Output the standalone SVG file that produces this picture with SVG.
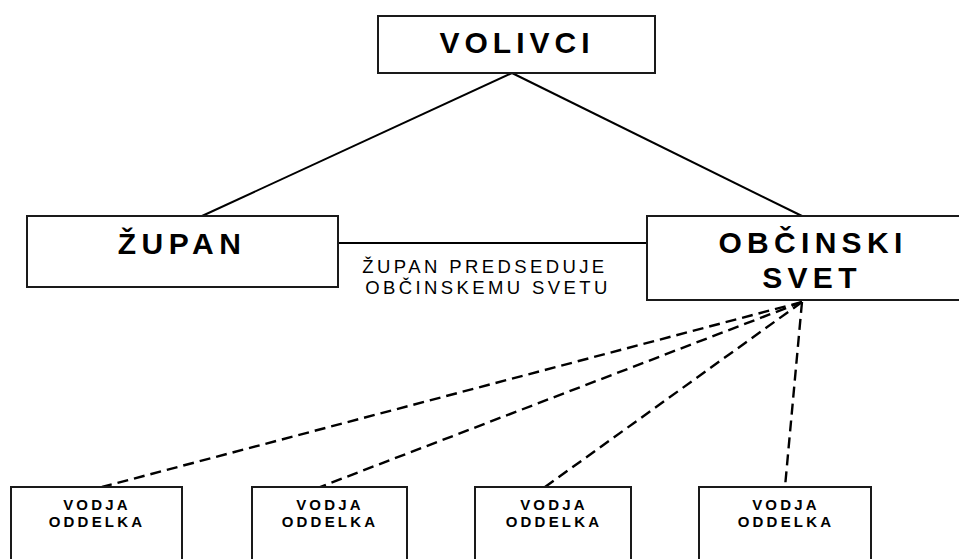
<svg xmlns="http://www.w3.org/2000/svg" width="959" height="559" viewBox="0 0 959 559">
<style>
.box{fill:#fff;stroke:#1a1a1a;stroke-width:2}
.big{font-family:"Liberation Sans",Arial,sans-serif;font-weight:bold;font-size:30px;letter-spacing:5.3px;fill:#000;text-anchor:middle}
.small{font-family:"Liberation Sans",Arial,sans-serif;font-weight:bold;font-size:15px;letter-spacing:3.2px;fill:#000;text-anchor:middle}
.lbl{font-family:"Liberation Sans",Arial,sans-serif;font-size:18.5px;letter-spacing:3.4px;fill:#000;text-anchor:middle}
.solid{stroke:#000;stroke-width:2;fill:none}
.dash{stroke:#000;stroke-width:2.4;fill:none;stroke-dasharray:11 6}
</style>
<rect width="959" height="559" fill="#fff"/>
<g id="connectors">
<line class="solid" x1="512" y1="73" x2="202" y2="216"/>
<line class="solid" x1="512" y1="73" x2="802" y2="216"/>
<line class="solid" x1="338" y1="243" x2="647" y2="243"/>
<line class="dash" x1="802" y1="302" x2="102" y2="487"/>
<line class="dash" x1="802" y1="302" x2="320" y2="487"/>
<line class="dash" x1="802" y1="302" x2="545" y2="487"/>
<line class="dash" x1="802" y1="302" x2="785" y2="487"/>
<g id="label">
<text class="lbl" x="485" y="273">ŽUPAN PREDSEDUJE</text>
<text class="lbl" x="488" y="294">OBČINSKEMU SVETU</text>
</g>
</g>
<g id="volivci">
<rect class="box" x="378" y="16" width="277" height="57"/>
<text class="big" x="517" y="53" style="letter-spacing:5px">VOLIVCI</text>
</g>
<g id="zupan">
<rect class="box" x="27" y="216" width="311" height="71"/>
<text class="big" x="182" y="254" style="letter-spacing:5.5px">ŽUPAN</text>
</g>
<g id="obcinski-svet">
<rect class="box" x="647" y="216" width="330" height="84"/>
<text class="big" x="813" y="253">OBČINSKI</text>
<text class="big" x="812" y="288">SVET</text>
</g>
<g id="vodja1">
<rect class="box" x="11" y="487" width="171" height="90"/>
<text class="small" x="97" y="510">VODJA</text>
<text class="small" x="97" y="527">ODDELKA</text>
</g>
<g id="vodja2">
<rect class="box" x="252" y="487" width="155" height="90"/>
<text class="small" x="330" y="510">VODJA</text>
<text class="small" x="330" y="527">ODDELKA</text>
</g>
<g id="vodja3">
<rect class="box" x="475" y="487" width="156" height="90"/>
<text class="small" x="554" y="510">VODJA</text>
<text class="small" x="554" y="527">ODDELKA</text>
</g>
<g id="vodja4">
<rect class="box" x="699" y="487" width="172" height="90"/>
<text class="small" x="786" y="510">VODJA</text>
<text class="small" x="786" y="527">ODDELKA</text>
</g>
</svg>
